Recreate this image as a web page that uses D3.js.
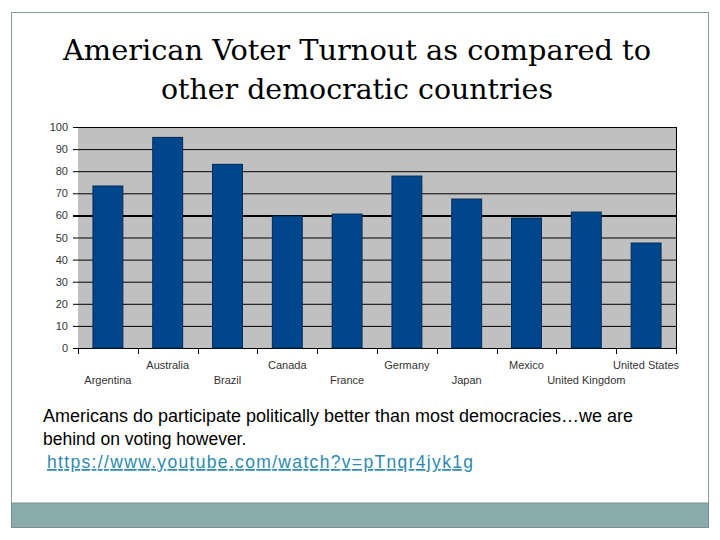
<!DOCTYPE html>
<html>
<head>
<meta charset="utf-8">
<script src="https://cdn.jsdelivr.net/npm/d3@7"></script>
<style>
  body { margin: 0; background: #fff; }
  svg { display: block; }
</style>
</head>
<body>
<svg id="chart" width="720" height="540"></svg>
<script>
// data
const countries = ["Argentina", "Australia", "Brazil", "Canada", "France",
  "Germany", "Japan", "Mexico", "United Kingdom", "United States"];
const turnout = [73.3, 95.3, 83.1, 59.7, 60.6, 77.8, 67.4, 58.8, 61.5, 47.5];
const yTicks = [0, 10, 20, 30, 40, 50, 60, 70, 80, 90, 100];

const svg = d3.select("#chart");
const width = 720, height = 540;
const margin = { top: 127, right: 44, bottom: 192, left: 78 };

// slide frame
svg.append("rect")
  .attr("x", 11.5).attr("y", 12.5)
  .attr("width", 697).attr("height", 515)
  .attr("fill", "#fff")
  .attr("stroke", "#8a9a9a");

svg.append("rect")
  .attr("x", 11.5).attr("y", 503)
  .attr("width", 697).attr("height", 24.5)
  .attr("fill", "#8aacac")
  .attr("stroke", "#7a9090");

// title
const title = svg.append("text")
  .attr("text-anchor", "middle")
  .attr("font-family", "DejaVu Serif, Georgia, serif")
  .attr("font-size", 28)
  .attr("fill", "#000");
title.append("tspan").attr("x", 357).attr("y", 60)
  .attr("textLength", 588).attr("lengthAdjust", "spacingAndGlyphs")
  .text("American Voter Turnout as compared to");
title.append("tspan").attr("x", 357).attr("y", 99)
  .attr("textLength", 392).attr("lengthAdjust", "spacingAndGlyphs")
  .text("other democratic countries");

const x = d3.scaleBand()
  .domain(countries)
  .range([margin.left, width - margin.right])
  .paddingInner(0.5)
  .paddingOuter(0.25);

const y = d3.scaleLinear()
  .domain([0, 100])
  .range([height - margin.bottom, margin.top]);

// plot background
svg.append("rect")
  .attr("x", margin.left).attr("y", margin.top)
  .attr("width", width - margin.left - margin.right)
  .attr("height", y(0) - margin.top)
  .attr("fill", "#c0c0c0");

// gridlines
svg.append("g")
  .selectAll("line")
  .data(yTicks)
  .join("line")
  .attr("x1", margin.left - 5)
  .attr("x2", width - margin.right)
  .attr("y1", d => y(d) + 0.5)
  .attr("y2", d => y(d) + 0.5)
  .attr("stroke", "#000")
  .attr("stroke-width", d => d === 60 ? 2 : 1);

// right edge
svg.append("line")
  .attr("x1", width - margin.right + 0.5).attr("x2", width - margin.right + 0.5)
  .attr("y1", margin.top).attr("y2", y(0) + 6)
  .attr("stroke", "#000");

// bars
svg.append("g")
  .attr("fill", "#00468c")
  .attr("stroke", "#002a55")
  .selectAll("rect")
  .data(countries)
  .join("rect")
  .attr("x", d => x(d))
  .attr("y", (d, i) => y(turnout[i]))
  .attr("width", x.bandwidth())
  .attr("height", (d, i) => y(0) - y(turnout[i]));

// y axis labels
svg.append("g")
  .selectAll("text")
  .data(yTicks)
  .join("text")
  .attr("x", 68)
  .attr("y", d => y(d) + 4)
  .attr("text-anchor", "end")
  .attr("font-family", "Liberation Sans, Arial, sans-serif")
  .attr("font-size", 11)
  .attr("fill", "#333")
  .text(d => d);

// x category boundary ticks
const step = x.step();
const bounds = d3.range(countries.length + 1).map(i => margin.left + i * step);
svg.append("g")
  .selectAll("line")
  .data(bounds)
  .join("line")
  .attr("x1", d => Math.round(d) + 0.5)
  .attr("x2", d => Math.round(d) + 0.5)
  .attr("y1", y(0))
  .attr("y2", y(0) + 6)
  .attr("stroke", "#000");

// x labels, staggered
svg.append("g")
  .selectAll("text")
  .data(countries)
  .join("text")
  .attr("x", d => x(d) + x.bandwidth() / 2)
  .attr("y", (d, i) => i % 2 === 1 ? 369 : 384)
  .attr("text-anchor", "middle")
  .attr("font-family", "Liberation Sans, Arial, sans-serif")
  .attr("font-size", 11)
  .attr("fill", "#333")
  .text(d => d);

// body text
const body = svg.append("text")
  .attr("font-family", "Liberation Sans, Arial, sans-serif")
  .attr("font-size", 17.5)
  .attr("fill", "#000");
body.append("tspan").attr("x", 43).attr("y", 422)
  .attr("textLength", 590).attr("lengthAdjust", "spacingAndGlyphs")
  .text("Americans do participate politically better than most democracies\u2026we are");
body.append("tspan").attr("x", 43).attr("y", 445)
  .text("behind on voting however.");

svg.append("text")
  .attr("x", 47).attr("y", 468)
  .attr("font-family", "Liberation Sans, Arial, sans-serif")
  .attr("font-size", 17.5)
  .attr("fill", "#2e8ab0")
  .attr("text-decoration", "underline")
  .attr("textLength", 426).attr("lengthAdjust", "spacing")
  .text("https://www.youtube.com/watch?v=pTnqr4jyk1g");
</script>
</body>
</html>
